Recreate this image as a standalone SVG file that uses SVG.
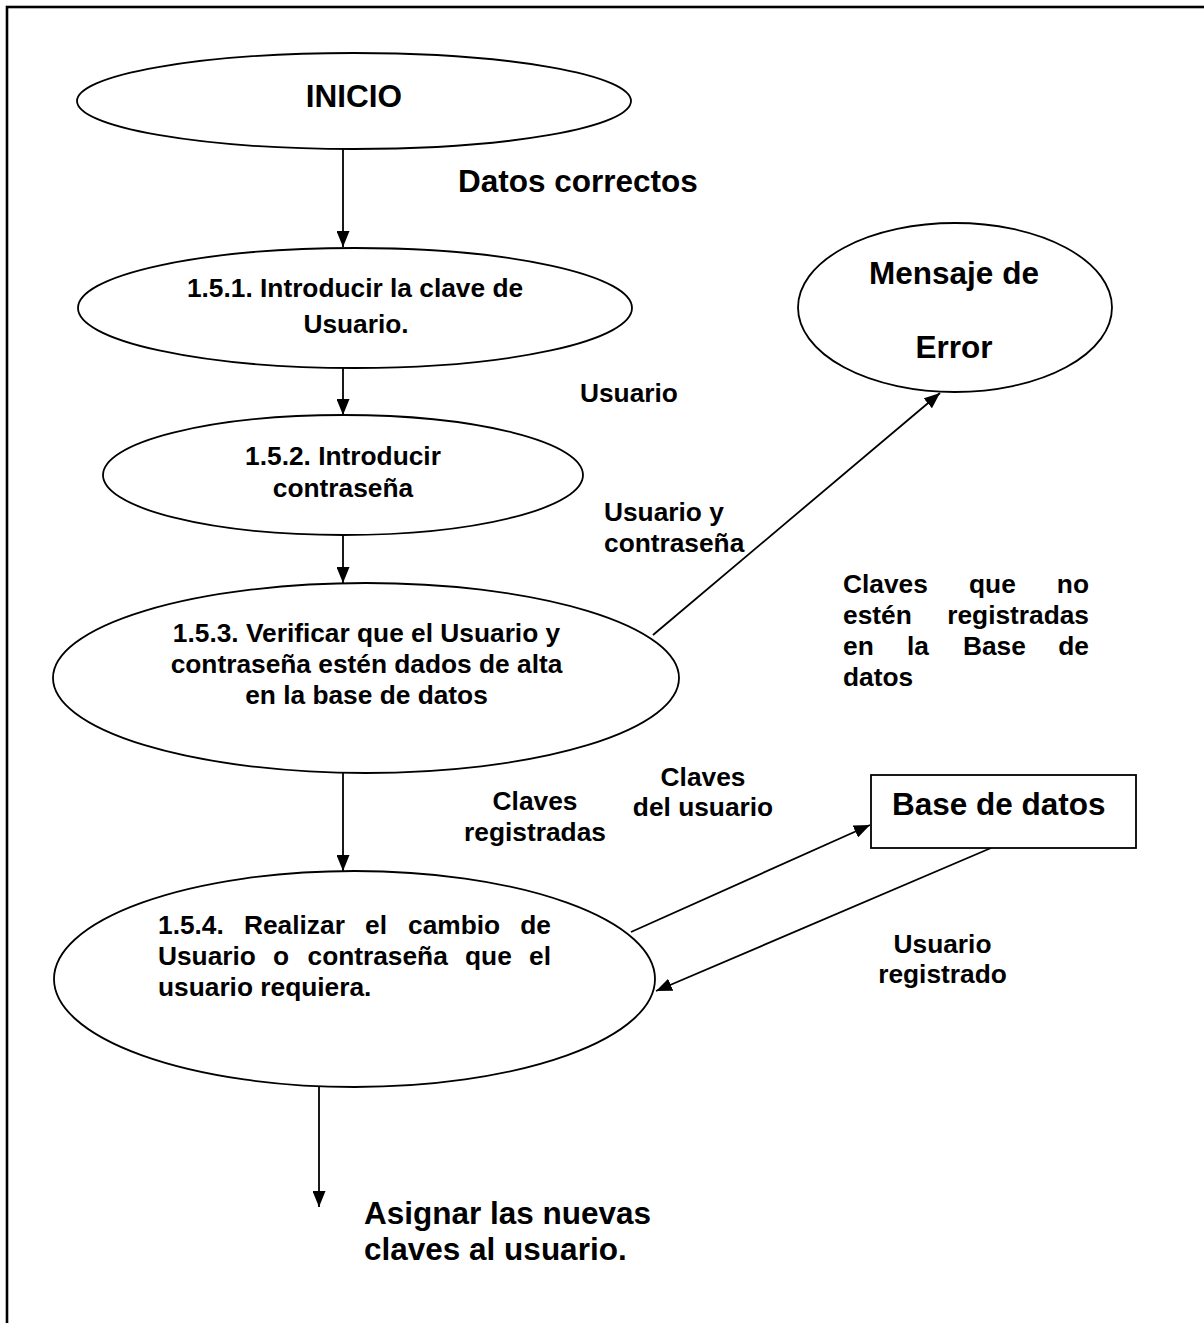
<svg xmlns="http://www.w3.org/2000/svg" width="1204" height="1323" viewBox="0 0 1204 1323">
  <defs>
    <marker id="arrow" markerUnits="userSpaceOnUse" markerWidth="16" markerHeight="13" refX="16" refY="6.5" orient="auto">
      <path d="M0,0 L16,6.5 L0,13 Z" fill="#000"/>
    </marker>
    <style>
      text { font-family: "Liberation Sans", Arial, sans-serif; font-weight: bold; fill: #000; }
      .big { font-size: 31.5px; }
      .small { font-size: 26.3px; }
      .mid { text-anchor: middle; }
      .end { text-anchor: end; }
      .shape { fill: #fff; stroke: #000; stroke-width: 1.8; }
      .flow { fill: none; stroke: #000; stroke-width: 1.8; marker-end: url(#arrow); }
    </style>
  </defs>

  <rect width="1204" height="1323" fill="#fff"/>
  <!-- page frame (only top and left edges fall inside the page) -->
  <rect x="7" y="7" width="1230" height="1350" fill="none" stroke="#000" stroke-width="2.6"/>

  <!-- connectors -->
  <g id="connectors">
    <line class="flow" x1="343" y1="149" x2="343" y2="247"/>
    <line class="flow" x1="343" y1="368" x2="343" y2="415"/>
    <line class="flow" x1="343" y1="535" x2="343" y2="583"/>
    <line class="flow" x1="653" y1="635" x2="940" y2="393"/>
    <line class="flow" x1="343" y1="773" x2="343" y2="871"/>
    <line class="flow" x1="631" y1="932" x2="870" y2="825"/>
    <line class="flow" x1="991" y1="848" x2="656" y2="991"/>
    <line class="flow" x1="319" y1="1087" x2="319" y2="1207"/>
  </g>

  <!-- start -->
  <g id="inicio">
    <ellipse class="shape" cx="354" cy="101" rx="277" ry="48"/>
    <text class="big mid" x="354" y="107">INICIO</text>
  </g>

  <!-- 1.5.1 -->
  <g id="p151">
    <ellipse class="shape" cx="355" cy="308" rx="277" ry="60"/>
    <text class="small mid" x="355" y="297">1.5.1. Introducir la clave de</text>
    <text class="small mid" x="356" y="333">Usuario.</text>
  </g>

  <!-- 1.5.2 -->
  <g id="p152">
    <ellipse class="shape" cx="343" cy="475" rx="240" ry="60"/>
    <text class="small mid" x="343" y="465">1.5.2. Introducir</text>
    <text class="small mid" x="343" y="497">contraseña</text>
  </g>

  <!-- 1.5.3 -->
  <g id="p153">
    <ellipse class="shape" cx="366" cy="678" rx="313" ry="95"/>
    <text class="small mid" x="366.5" y="642">1.5.3. Verificar que el Usuario y</text>
    <text class="small mid" x="366.5" y="673">contraseña estén dados de alta</text>
    <text class="small mid" x="366.5" y="704">en la base de datos</text>
  </g>

  <!-- 1.5.4 (justified paragraph) -->
  <g id="p154">
    <ellipse class="shape" cx="354.5" cy="979" rx="300.5" ry="108"/>
    <text class="small" y="934"><tspan x="158">1.5.4.</tspan><tspan x="244">Realizar</tspan><tspan x="365">el</tspan><tspan x="408">cambio</tspan></text>
    <text class="small end" x="551" y="934">de</text>
    <text class="small" y="965"><tspan x="158">Usuario</tspan><tspan x="273">o</tspan><tspan x="307.5">contraseña</tspan><tspan x="465">que</tspan></text>
    <text class="small end" x="551" y="965">el</text>
    <text class="small" x="158" y="996">usuario requiera.</text>
  </g>

  <!-- error message -->
  <g id="mensaje">
    <ellipse class="shape" cx="955" cy="307.5" rx="157" ry="84.5"/>
    <text class="big mid" x="954" y="284">Mensaje de</text>
    <text class="big mid" x="954" y="358">Error</text>
  </g>

  <!-- data store -->
  <g id="base">
    <rect class="shape" x="871" y="775" width="265" height="73"/>
    <text class="big" x="892" y="815">Base de datos</text>
  </g>

  <!-- flow labels -->
  <g id="labels">
    <text class="big" x="458" y="192">Datos correctos</text>
    <text class="small" x="580" y="402">Usuario</text>
    <text class="small" x="604" y="521">Usuario y</text>
    <text class="small" x="604" y="552">contraseña</text>

    <text class="small" y="593"><tspan x="843">Claves</tspan><tspan x="969">que</tspan></text>
    <text class="small end" x="1089" y="593">no</text>
    <text class="small" x="843" y="624">estén</text>
    <text class="small end" x="1089" y="624">registradas</text>
    <text class="small" y="655"><tspan x="843">en</tspan><tspan x="907">la</tspan><tspan x="963">Base</tspan></text>
    <text class="small end" x="1089" y="655">de</text>
    <text class="small" x="843" y="686">datos</text>

    <text class="small mid" x="535" y="810">Claves</text>
    <text class="small mid" x="535" y="841">registradas</text>
    <text class="small mid" x="703" y="786">Claves</text>
    <text class="small mid" x="703" y="816">del usuario</text>
    <text class="small mid" x="942.5" y="953">Usuario</text>
    <text class="small mid" x="942.5" y="983">registrado</text>

    <text class="big" x="364" y="1224">Asignar las nuevas</text>
    <text class="big" x="364" y="1260">claves al usuario.</text>
  </g>
</svg>
